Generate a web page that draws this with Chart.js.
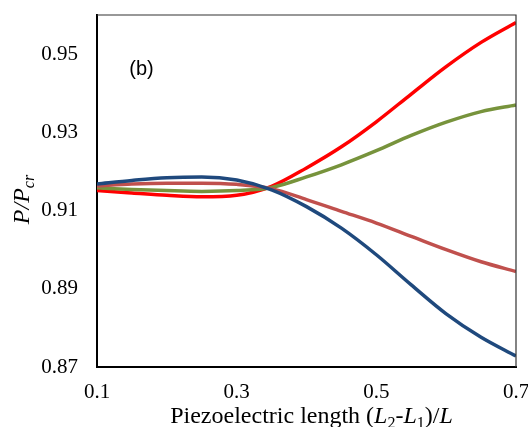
<!DOCTYPE html>
<html>
<head>
<meta charset="utf-8">
<script src="https://cdn.jsdelivr.net/npm/chart.js@4"></script>
<style>
  html, body { margin: 0; padding: 0; background: #fff; }
  #wrap { width: 528px; height: 427px; }
</style>
</head>
<body>
<div id="wrap"><canvas id="chart" width="528" height="427"></canvas></div>
<script>
// piezoelectric length (L2-L1)/L
const lengths = [0.10, 0.15, 0.20, 0.25, 0.30, 0.35, 0.40, 0.45, 0.50, 0.55, 0.60, 0.65, 0.70];

// P/Pcr, one array per curve
const blueCurve  = [0.9168, 0.9177, 0.9184, 0.9186, 0.9178, 0.9153, 0.9110, 0.9055, 0.8987, 0.8910, 0.8836, 0.8776, 0.8728];
const pinkCurve  = [0.9163, 0.9168, 0.9170, 0.9170, 0.9167, 0.9156, 0.9128, 0.9098, 0.9068, 0.9034, 0.9000, 0.8969, 0.8944];
const greenCurve = [0.9158, 0.9154, 0.9151, 0.9149, 0.9151, 0.9159, 0.9186, 0.9217, 0.9253, 0.9292, 0.9326, 0.9353, 0.9370];
const redCurve   = [0.9151, 0.9145, 0.9139, 0.9135, 0.9139, 0.9162, 0.9209, 0.9263, 0.9327, 0.9398, 0.9468, 0.9530, 0.9581];

const xTicks = [0.1, 0.3, 0.5, 0.7];
const yTicks = [0.87, 0.89, 0.91, 0.93, 0.95];

const panelLabel = '(b)';
const xTitleParts = [
    { t: 'Piezoelectric length (', s: 'n' },
    { t: 'L', s: 'i' }, { t: '2', s: 'sub' },
    { t: '-', s: 'n' },
    { t: 'L', s: 'i' }, { t: '1', s: 'sub' },
    { t: ')/', s: 'n' },
    { t: 'L', s: 'i' }
];
const yTitleParts = [
    { t: 'P/P', s: 'i' }, { t: 'cr', s: 'isub' }
];

const serif = '"Liberation Serif", "Times New Roman", serif';
const fonts = {
    n: '24px ' + serif,
    i: 'italic 24px ' + serif,
    sub: '16px ' + serif,
    isub: 'italic 16px ' + serif
};

const toPoints = (ys) => ys.map((y, i) => ({ x: lengths[i], y }));

const makeLine = (data, color) => ({
    data: toPoints(data),
    borderColor: color,
    borderWidth: 3.5,
    pointRadius: 0,
    cubicInterpolationMode: 'monotone',
    fill: false
});

// draws a run of text pieces (normal / italic / subscript) around a centre
const drawRich = (ctx, parts, cx, baseY) => {
    let total = 0;
    parts.forEach(p => { ctx.font = fonts[p.s]; total += ctx.measureText(p.t).width; });
    let x = cx - total / 2;
    ctx.textAlign = 'left';
    ctx.textBaseline = 'alphabetic';
    parts.forEach(p => {
        ctx.font = fonts[p.s];
        const dy = (p.s === 'sub' || p.s === 'isub') ? 5 : 0;
        ctx.fillText(p.t, x, baseY + dy);
        x += ctx.measureText(p.t).width;
    });
};

const decorations = {
    id: 'decorations',
    afterDraw(chart) {
        const { ctx, chartArea } = chart;
        ctx.save();
        // top and right frame lines
        ctx.strokeStyle = '#333';
        ctx.lineWidth = 1.2;
        ctx.beginPath();
        ctx.moveTo(chartArea.left, chartArea.top);
        ctx.lineTo(chartArea.right, chartArea.top);
        ctx.lineTo(chartArea.right, chartArea.bottom);
        ctx.stroke();

        ctx.fillStyle = '#000';
        drawRich(ctx, xTitleParts, 311.5, 423);

        ctx.save();
        ctx.translate(28.5, 199.5);
        ctx.rotate(-Math.PI / 2);
        drawRich(ctx, yTitleParts, 0, 0);
        ctx.restore();

        ctx.font = '20px "Liberation Sans", Arial, sans-serif';
        ctx.textAlign = 'center';
        ctx.textBaseline = 'middle';
        ctx.fillText(panelLabel, 141.5, 69);
        ctx.restore();
    }
};

new Chart(document.getElementById('chart'), {
    type: 'line',
    data: {
        datasets: [
            makeLine(blueCurve, '#1F497D'),
            makeLine(pinkCurve, '#C0504D'),
            makeLine(greenCurve, '#77933C'),
            makeLine(redCurve, '#FF0000')
        ]
    },
    options: {
        responsive: false,
        animation: false,
        layout: { padding: { top: 15, right: 12, left: 0, bottom: 0 } },
        plugins: { legend: { display: false }, tooltip: { enabled: false } },
        scales: {
            x: {
                type: 'linear',
                min: 0.1,
                max: 0.7,
                afterBuildTicks: (axis) => { axis.ticks = xTicks.map(v => ({ value: v })); },
                afterFit: (axis) => {
                    axis.height = 60;
                    axis.paddingLeft = 0;
                    axis.paddingRight = 0;
                },
                grid: { display: false, drawTicks: false },
                border: { display: true, color: '#000', width: 2 },
                ticks: {
                    padding: 13,
                    color: '#000',
                    font: { family: serif, size: 21 },
                    callback: (v) => v.toFixed(1)
                }
            },
            y: {
                min: 0.87,
                max: 0.96,
                afterBuildTicks: (axis) => { axis.ticks = yTicks.map(v => ({ value: v })); },
                afterFit: (axis) => {
                    axis.width = 97;
                    axis.paddingTop = 0;
                    axis.paddingBottom = 0;
                },
                grid: { display: false, drawTicks: false },
                border: { display: true, color: '#000', width: 2 },
                ticks: {
                    padding: 19,
                    color: '#000',
                    font: { family: serif, size: 21 },
                    callback: (v) => v.toFixed(2)
                }
            }
        }
    },
    plugins: [decorations]
});
</script>
</body>
</html>
